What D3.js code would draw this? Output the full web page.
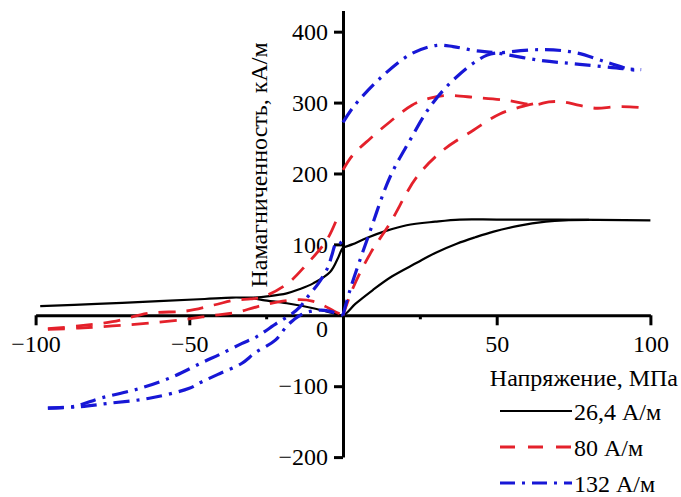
<!DOCTYPE html>
<html>
<head>
<meta charset="utf-8">
<script src="https://cdn.jsdelivr.net/npm/d3@7"></script>
<style>
  body { margin: 0; background: #fff; }
  text { font-family: "Liberation Serif", "DejaVu Serif", serif; font-size: 24px; }
</style>
</head>
<body>
<div id="chart"></div>
<script>
// stress (MPa) / magnetization (kA/m) pairs
var black26Upper = [[-98.5,13],[-80,16],[-60,20],[-45,23],[-36,25],[-29,25],[-24,27],[-18.3,31],[-14,37],[-9.7,45],[-4.2,61],[-1.5,82],[-0.5,92],[0,95],[3,100],[7.7,109],[14,119],[20.7,127],[30,132],[38,135],[50,135],[70,135],[100,134]];
var black26Lower = [[-29,24],[-26,21.5],[-18.3,17],[-9.7,10],[-3.2,3],[0,0],[4,16],[9.8,36],[16,55],[24,74],[30,88],[37,101],[43,110],[49,118],[57,126],[66,132],[72,134],[80,134.5]];

var red80LeftUpper = [[-96,-19],[-86,-15],[-75,-9],[-63,3],[-51,6],[-42,14.5],[-35,21.5],[-30,23],[-26,26],[-18,45],[-12,71],[-5.3,106],[-2,136]];
var red80LeftLower = [[-96,-20],[-86,-18],[-75,-15],[-63,-11],[-51,-5.6],[-42,0],[-35,3.7],[-28,12],[-21,19],[-14,22],[-10,20],[-6,13],[-3,6],[0,0]];
var red80RightUpper = [[0,205],[3,225],[8.8,249],[15.3,273],[22.3,296],[28,306],[33.7,310],[43.5,307],[53.7,303],[62.4,297],[67,301],[71.6,301],[77,296],[82.5,292],[88,294],[93.3,294],[97,293]];
var red80RightLower = [[0,0],[3.4,40],[9,88],[15.3,130],[24,195],[32.6,233],[42.4,261],[51,284],[59.7,296],[64,300]];

var blue132LeftUpper = [[-96,-131],[-87,-128],[-79,-117],[-66,-103],[-55,-86],[-46,-67],[-40,-55],[-33,-40],[-28,-30],[-21.5,-11],[-17,1],[-14,12],[-11.5,26],[-8,45],[-5,67],[-3.6,85],[-2.5,100],[-1.5,104],[0,99]];
var blue132LeftLower = [[-96,-131],[-86,-129],[-76,-124],[-63,-117],[-50,-103],[-46,-94],[-40,-82],[-33,-68],[-28.6,-53],[-22,-35],[-18,-14],[-14,0],[-10,6],[-6,7],[-3,4],[0,0]];
var blue132RightUpper = [[0,272],[3.4,294],[12,334],[22.3,369],[30.5,380.7],[35.8,379],[42.4,373.6],[50,370],[64,359.6],[77,354],[91,348],[97,346.5]];
var blue132RightLower = [[0,0],[2.3,36],[8.2,111],[15.3,195],[21.8,247],[28.3,294],[36.4,334],[46.7,366.6],[53.2,371],[64,374.6],[75,371],[85.8,357],[94.3,346],[97,346.5]];

var xTicks = [-100, -50, 50, 100];
var yTicks = [400, 300, 200, 100, -100, -200];
var legendNames = ["26,4 А/м", "80 А/м", "132 А/м"];

var width = 681, height = 497;

var svg = d3.select("#chart").append("svg")
    .attr("width", width)
    .attr("height", height);

var x = d3.scaleLinear().domain([-100, 100]).range([35.6, 650.4]);
var y = d3.scaleLinear().domain([-200, 430]).range([457.1, 10.4]);

var fmt = d => d < 0 ? "\u2212" + Math.abs(d) : "" + d;

// x axis through y = 0
svg.append("g")
    .attr("transform", "translate(0," + y(0) + ")")
    .call(d3.axisBottom(x).tickValues(xTicks).tickSize(10).tickSizeOuter(0).tickPadding(10).tickFormat(fmt));
svg.append("g")
    .attr("transform", "translate(0," + y(0) + ")")
    .call(d3.axisBottom(x).tickValues([-25, 25]).tickSize(4).tickFormat(""))
    .call(g => g.select(".domain").remove());

// y axis through x = 0
svg.append("g")
    .attr("transform", "translate(" + x(0) + ",0)")
    .call(d3.axisLeft(y).tickValues(yTicks).tickSize(9).tickSizeOuter(0).tickPadding(6).tickFormat(fmt));

svg.selectAll("g").attr("font-family", null).attr("font-size", null);
svg.selectAll(".domain, .tick line").attr("stroke", "#000").attr("stroke-width", 3);

svg.append("text")
    .attr("x", x(0) - 21)
    .attr("y", y(0) + 22)
    .attr("text-anchor", "middle")
    .text("0");

svg.append("text")
    .attr("x", 678)
    .attr("y", 386)
    .attr("text-anchor", "end")
    .text("Напряжение, МПа");

svg.append("text")
    .attr("transform", "translate(267,165) rotate(-90)")
    .attr("text-anchor", "middle")
    .text("Намагниченность, кА/м");

var line = d3.line()
    .x(d => x(d[0]))
    .y(d => y(d[1]))
    .curve(d3.curveCatmullRom.alpha(0.5));

var styles = [
    { color: "#000000", width: 2.2, dash: null, legendDash: null },
    { color: "#e4212b", width: 2.8, dash: "17,11", legendDash: "15,13" },
    { color: "#1717d6", width: 3.2, dash: "16,7,3,7", legendDash: "15,7,3,7" }
];

var series = [
    [black26Upper, black26Lower],
    [red80LeftUpper, red80LeftLower, red80RightUpper, red80RightLower],
    [blue132LeftUpper, blue132LeftLower, blue132RightUpper, blue132RightLower]
];

series.forEach((branches, i) => {
    svg.append("g")
        .selectAll("path")
        .data(branches)
        .enter()
        .append("path")
        .attr("d", line)
        .attr("fill", "none")
        .attr("stroke", styles[i].color)
        .attr("stroke-width", styles[i].width)
        .attr("stroke-dasharray", styles[i].dash);
});

// legend
var leg = svg.append("g");
legendNames.forEach((name, i) => {
    var ly = 411 + i * 36;
    leg.append("line")
        .attr("x1", 500).attr("x2", 572)
        .attr("y1", ly).attr("y2", ly)
        .attr("stroke", styles[i].color)
        .attr("stroke-width", styles[i].width)
        .attr("stroke-dasharray", styles[i].legendDash);
    leg.append("text")
        .attr("x", 574)
        .attr("y", ly + 9)
        .text(name);
});
</script>
</body>
</html>
